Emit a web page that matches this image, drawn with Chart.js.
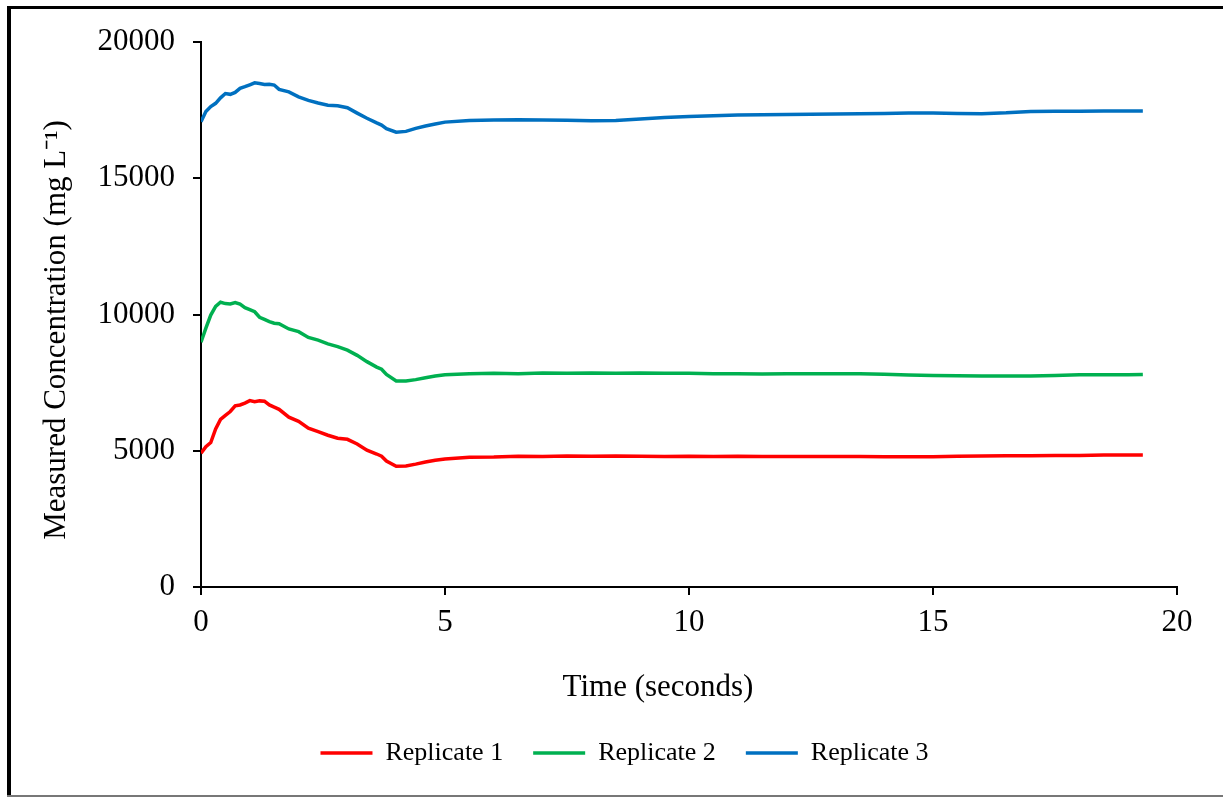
<!DOCTYPE html>
<html>
<head>
<meta charset="utf-8">
<script src="https://cdn.jsdelivr.net/npm/chart.js@4"></script>
<style>
  body { margin: 0; background: #fff; }
  #wrap { width: 1223px; height: 797px; }
</style>
</head>
<body>
<div id="wrap"><canvas id="chart" width="1223" height="797"></canvas></div>
<script>
// time in seconds, shared by all three replicates
const times = [0, 0.1, 0.2, 0.3, 0.4, 0.5, 0.6, 0.7, 0.8, 0.9, 1.0, 1.1, 1.2, 1.3, 1.4, 1.5, 1.6, 1.8, 2.0, 2.2,
  2.4, 2.6, 2.8, 3.0, 3.2, 3.4, 3.6, 3.7, 3.8, 4.0, 4.2, 4.4, 4.6, 4.8, 5.0, 5.5, 6, 6.5, 7, 7.5,
  8, 8.5, 9, 9.5, 10, 10.5, 11, 11.5, 12, 12.5, 13, 13.5, 14, 14.5, 15, 15.5, 16, 16.5, 17, 17.5,
  18, 18.5, 19, 19.3];

const replicate1 = [4905, 5150, 5300, 5800, 6150, 6300, 6440, 6650, 6680, 6750, 6840, 6800, 6830, 6820, 6680, 6600, 6520, 6230, 6080, 5830,
  5700, 5570, 5460, 5420, 5250, 5020, 4880, 4800, 4620, 4430, 4440, 4510, 4590, 4650, 4700, 4760, 4770, 4800, 4790, 4810,
  4800, 4810, 4800, 4790, 4800, 4790, 4800, 4790, 4790, 4790, 4790, 4790, 4780, 4780, 4780, 4800, 4810, 4820, 4820, 4830,
  4830, 4840, 4840, 4840];

const replicate2 = [8980, 9500, 9980, 10300, 10450, 10400, 10390, 10440, 10380, 10250, 10180, 10100, 9900, 9820, 9740, 9680, 9660, 9470, 9370, 9160,
  9060, 8920, 8820, 8690, 8500, 8270, 8070, 7990, 7800, 7560, 7560, 7610, 7680, 7740, 7790, 7830, 7840, 7830, 7850, 7840,
  7850, 7840, 7850, 7840, 7840, 7830, 7830, 7820, 7830, 7830, 7830, 7830, 7810, 7780, 7760, 7750, 7740, 7740, 7740, 7760,
  7790, 7790, 7790, 7800];

const replicate3 = [17075, 17450, 17630, 17750, 17950, 18110, 18080, 18150, 18300, 18360, 18430, 18500, 18480, 18440, 18450, 18420, 18260, 18170, 17990, 17860,
  17760, 17680, 17660, 17590, 17390, 17200, 17030, 16950, 16820, 16690, 16720, 16830, 16920, 16990, 17060, 17120, 17140, 17150, 17140, 17130,
  17110, 17120, 17170, 17230, 17270, 17290, 17320, 17330, 17340, 17350, 17360, 17370, 17380, 17390, 17390, 17380, 17370, 17400, 17450, 17460,
  17460, 17465, 17470, 17470];

const seriesNames = ['Replicate 1', 'Replicate 2', 'Replicate 3'];
const seriesColors = ['#FF0000', '#00B050', '#0070C0'];
const xTicks = [0, 5, 10, 15, 20];
const yTicks = [0, 5000, 10000, 15000, 20000];

const serif = "'Liberation Serif', 'Times New Roman', serif";

// outer frame of the original figure
const framePlugin = {
  id: 'frame',
  beforeDraw(chart) {
    const ctx = chart.ctx;
    ctx.save();
    ctx.fillStyle = '#fff';
    ctx.fillRect(0, 0, chart.width, chart.height);
    ctx.fillStyle = '#000';
    ctx.fillRect(7, 6, 4, 791);
    ctx.fillRect(7, 6, chart.width - 7, 3);
    ctx.fillStyle = '#777';
    ctx.fillRect(7, 795, chart.width - 7, 2);
    ctx.restore();
  }
};

const toPoints = (vals) => vals.map((v, i) => ({ x: times[i], y: v }));
const allSeries = [replicate1, replicate2, replicate3];

new Chart(document.getElementById('chart').getContext('2d'), {
  type: 'line',
  data: {
    datasets: allSeries.map((vals, i) => ({
      label: seriesNames[i],
      data: toPoints(vals),
      borderColor: seriesColors[i],
      backgroundColor: seriesColors[i],
      borderWidth: 3.5,
      pointRadius: 0,
      tension: 0,
      fill: false
    }))
  },
  options: {
    responsive: false,
    animation: false,
    layout: { padding: { left: 72, right: 46, top: 42, bottom: 21 } },
    plugins: {
      tooltip: { enabled: false },
      legend: {
        position: 'bottom',
        labels: {
          usePointStyle: true,
          pointStyle: 'line',
          pointStyleWidth: 52,
          padding: 30,
          color: '#000',
          font: { family: serif, size: 26 }
        }
      }
    },
    scales: {
      x: {
        type: 'linear',
        min: 0,
        max: 20,
        afterBuildTicks(scale) { scale.ticks = xTicks.map(v => ({ value: v })); },
        afterFit(scale) { scale.height = 123; },
        border: { color: '#000', width: 2 },
        grid: { drawOnChartArea: false, drawTicks: true, tickLength: 8, color: '#000', lineWidth: 2 },
        ticks: { color: '#000', padding: 9, maxRotation: 0, font: { family: serif, size: 31 } },
        title: {
          display: true,
          text: 'Time (seconds)        ',
          color: '#000',
          font: { family: serif, size: 31 },
          padding: { top: 0, bottom: 4 }
        }
      },
      y: {
        min: 0,
        max: 20000,
        afterBuildTicks(scale) { scale.ticks = yTicks.map(v => ({ value: v })); },
        afterFit(scale) { scale.width = 129; },
        border: { color: '#000', width: 2 },
        grid: { drawOnChartArea: false, drawTicks: true, tickLength: 8, color: '#000', lineWidth: 2 },
        ticks: { color: '#000', padding: 18, font: { family: serif, size: 31 }, callback: v => String(v) },
        title: {
          display: true,
          text: 'Measured Concentration (mg L\u207B\u00B9)    ',
          color: '#000',
          font: { family: serif, size: 31 },
          padding: { top: -34, bottom: 0 }
        }
      }
    }
  },
  plugins: [framePlugin]
});
</script>
</body>
</html>
